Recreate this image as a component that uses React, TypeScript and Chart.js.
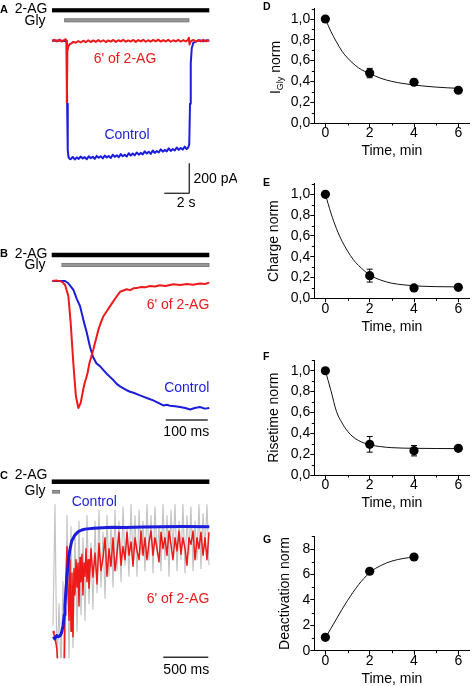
import React, { useEffect, useRef } from "react";
import { Chart, registerables } from "chart.js";

Chart.register(...registerables);

const FONT = "'Liberation Sans', Arial, Helvetica, sans-serif";
const RED = "#ee1a1a";
const BLUE = "#1c1cdc";
const NOISE = "#c4c4c4";
const BAR_GRAY = "#979797";

type Pt = [number, number];

// ---------------- Panel A : Gly currents (time s, current pA) ----------------
const A_AG6: Pt[] = [
  [0, 0], [0.2, 6], [0.4, -5], [0.6, 7], [0.8, -6], [1.0, 5], [1.1, 10], [1.16, 0], [1.19, -410], [1.23, -70],
  [1.3, -40], [1.4, -25], [1.55, -18], [1.7, -8], [1.9, -14], [2.1, -2], [2.3, -12], [2.5, 0], [2.7, -10], [2.9, 3],
  [3.1, -9], [3.3, 2], [3.5, -8], [3.7, 4], [3.9, -7], [4.1, 3], [4.3, -9], [4.5, 2], [4.7, -6], [4.9, 5],
  [5.1, -8], [5.3, 3], [5.5, -5], [5.7, 6], [5.9, -7], [6.1, 2], [6.3, -6], [6.5, 5], [6.7, -8], [6.9, 4],
  [7.1, -5], [7.3, 6], [7.5, -7], [7.7, 3], [7.9, -6], [8.1, 5], [8.3, -4], [8.5, 7], [8.7, -6], [8.9, 4],
  [9.1, -5], [9.3, 6], [9.5, -7], [9.7, 3], [9.9, -4], [10.1, 6], [10.3, -6], [10.5, 4], [10.7, -5], [10.85, 3],
  [10.95, 20], [11.0, -25], [11.1, -5], [11.3, 5], [11.5, -6], [11.7, 4], [11.9, -5], [12.1, 6], [12.3, -4], [12.58, 3],
];
const A_CONTROL: Pt[] = [
  [0, 0], [0.6, 2], [1.18, -3], [1.21, -420], [1.26, -730], [1.32, -775], [1.4, -788],
  [1.5, -790], [1.66, -775], [1.82, -792], [1.98, -778], [2.14, -788], [2.3, -772], [2.46, -785], [2.62, -776],
  [2.78, -790], [2.94, -770], [3.1, -784], [3.26, -774], [3.42, -788], [3.58, -768], [3.74, -781], [3.9, -770],
  [4.06, -785], [4.22, -765], [4.38, -779], [4.54, -768], [4.7, -782], [4.86, -760], [5.02, -775], [5.18, -764],
  [5.34, -777], [5.5, -756], [5.66, -770], [5.82, -760], [5.98, -772], [6.14, -750], [6.3, -766], [6.46, -752],
  [6.62, -764], [6.78, -745], [6.94, -760], [7.1, -748], [7.26, -758], [7.42, -738], [7.58, -752], [7.74, -740],
  [7.9, -755], [8.06, -732], [8.22, -748], [8.38, -735], [8.54, -745], [8.7, -724], [8.86, -740], [9.02, -728],
  [9.18, -738], [9.34, -718], [9.5, -735], [9.66, -722], [9.82, -732], [9.98, -712], [10.14, -728], [10.3, -715],
  [10.46, -726], [10.62, -706], [10.78, -722], [10.9, -712], [10.98, -690], [11.04, -420], [11.1, -150],
  [11.18, -50], [11.3, -15], [11.5, -6], [11.8, 3], [12.1, -4], [12.4, 3], [12.58, 0],
];
const A_AG_BAR: Pt = [0, 12.58];
const A_GLY_BAR: Pt = [0.98, 10.98];
const A_SCALE_TIME = 2; // s
const A_SCALE_AMP = 200; // pA

// ---------------- Panel B : activation (time ms, normalized current) ----------------
const B_AG6: Pt[] = [
  [0.8, 0], [10, 0.005], [23, -0.005], [31, -0.03], [39, -0.12], [44.5, -0.33], [50.8, -0.65], [57, -0.91],
  [62.7, -1.0], [68.3, -0.96], [74.6, -0.85], [78, -0.8], [81, -0.77], [85, -0.72], [88.9, -0.65], [98.4, -0.54],
  [110, -0.39], [116, -0.33], [122, -0.28], [130, -0.24], [138, -0.2], [150, -0.14], [162, -0.085], [170, -0.075],
  [178, -0.065], [186, -0.072], [194, -0.058], [202, -0.056], [210, -0.048], [222, -0.05], [233, -0.04],
  [245, -0.044], [257, -0.034], [270, -0.039], [289, -0.025], [305, -0.032], [321, -0.024], [336, -0.029],
  [352, -0.02], [364, -0.024], [374.5, -0.013],
];
const B_CONTROL: Pt[] = [
  [0.8, 0], [31, 0], [39, -0.018], [51, -0.07], [59, -0.14], [67, -0.2], [75, -0.31], [83, -0.41], [90.5, -0.52],
  [98, -0.6], [106, -0.65], [114, -0.67], [122, -0.7], [130, -0.73], [138, -0.755], [146, -0.78], [154, -0.81],
  [162, -0.83], [170, -0.845], [178, -0.86], [186, -0.872], [194, -0.88], [205, -0.895], [217, -0.91],
  [229, -0.925], [241, -0.94], [253, -0.96], [265, -0.98], [273, -0.975], [281, -0.982], [293, -0.986],
  [305, -0.992], [317, -1.0], [329, -1.012], [340, -1.0], [352, -0.992], [364, -1.005], [374.5, -1.0],
];
const B_AG_BAR: Pt = [-0.7, 374.5];
const B_GLY_BAR: Pt = [23, 374.5];
const B_SCALE_TIME = 100; // ms

// ---------------- Panel C : deactivation (time ms, normalized current) ----------------
const C_CONTROL: Pt[] = [
  [4, -1.0], [20, -1.02], [40, -0.99], [59, -1.0], [80, -0.99], [96, -0.96], [112, -0.9], [125, -0.8],
  [133, -0.72], [145, -0.56], [158, -0.43], [170, -0.32], [185, -0.22], [208, -0.13], [240, -0.08],
  [281, -0.045], [320, -0.03], [356, -0.022], [450, -0.015], [550, -0.01], [652, -0.006], [800, -0.008],
  [1000, -0.003], [1200, 0], [1450, 0.002], [1737, 0],
];
const C_AG6: Pt[] = [
  [0, -0.95], [11, -0.98], [22, -1.02], [33, -1.06], [44, -1.12], [56, -1.3], [78, -1.3], [100, -1.3],
  [122, -1.28], [133, -0.75], [144, -0.45], [156, -0.18], [167, -0.6], [178, -0.85], [189, -0.3], [200, -0.95],
  [211, -0.42], [222, -1.0], [233, -0.38], [244, -0.62], [256, -0.3], [267, -0.55], [278, -0.33], [289, -0.72],
  [300, -0.28], [311, -0.5], [322, -0.25], [333, -0.62], [344, -0.33], [356, -0.45], [367, -0.2], [378, -0.5],
  [389, -0.3], [400, -0.56], [422, -0.2], [444, -0.46], [467, -0.24], [489, -0.52], [511, -0.15], [533, -0.4],
  [556, -0.28], [578, -0.1], [600, -0.45], [622, -0.2], [644, -0.36], [667, -0.1], [689, -0.4], [711, -0.24],
  [733, -0.05], [756, -0.35], [778, -0.18], [800, -0.3], [822, -0.05], [844, -0.26], [867, -0.14], [889, -0.36],
  [911, -0.1], [933, -0.22], [956, -0.3], [978, -0.04], [1000, -0.26], [1022, -0.1], [1044, -0.3], [1067, -0.14],
  [1089, -0.04], [1111, -0.26], [1133, -0.1], [1156, -0.2], [1178, -0.32], [1200, -0.05], [1222, -0.2],
  [1244, -0.1], [1267, -0.26], [1289, -0.04], [1311, -0.16], [1333, -0.3], [1356, -0.1], [1378, -0.22],
  [1400, -0.04], [1422, -0.25], [1444, -0.1], [1467, -0.2], [1489, -0.35], [1511, -0.1], [1533, -0.16],
  [1556, -0.04], [1578, -0.3], [1600, -0.1], [1622, -0.2], [1644, -0.05], [1667, -0.26], [1689, -0.1],
  [1711, -0.3], [1733, -0.05],
];
const C_AG6_RAW: Pt[] = [
  [0, -0.9], [22, 0.2], [44, -1.3], [67, -0.7], [89, -1.3], [111, -0.5], [133, -1.3], [156, 0.1], [178, -1.2],
  [200, 0.0], [222, -1.1], [244, -0.05], [267, -0.95], [289, 0.05], [311, -0.8], [333, -0.1], [356, -0.85],
  [378, 0.1], [400, -0.7], [422, -0.15], [444, -0.75], [467, 0.05], [489, -0.6], [511, 0.15], [533, -0.55],
  [556, -0.05], [578, -0.65], [600, 0.1], [622, -0.45], [644, 0.0], [667, -0.55], [689, 0.15], [711, -0.4],
  [733, 0.05], [756, -0.5], [778, 0.18], [800, -0.35], [822, 0.0], [844, -0.45], [867, 0.2], [889, -0.3],
  [911, 0.1], [933, -0.45], [956, 0.15], [978, -0.25], [1000, 0.05], [1022, -0.4], [1044, 0.2], [1067, -0.3],
  [1089, 0.1], [1111, -0.42], [1133, 0.18], [1156, -0.25], [1178, 0.0], [1200, -0.4], [1222, 0.2], [1244, -0.3],
  [1267, 0.1], [1289, -0.45], [1311, 0.15], [1333, -0.2], [1356, 0.2], [1378, -0.4], [1400, 0.05], [1422, -0.3],
  [1444, 0.2], [1467, -0.42], [1489, 0.1], [1511, -0.25], [1533, 0.18], [1556, -0.4], [1578, 0.05], [1600, -0.3],
  [1622, 0.2], [1644, -0.38], [1667, 0.12], [1689, -0.2], [1711, 0.2], [1733, -0.35],
];
const C_AG_BAR: Pt = [-14, 1737];
const C_GLY_BAR: Pt = [-8, 78];
const C_SCALE_TIME = 500; // ms

// ---------------- Right panels (time, min) ----------------
const TIME_MIN = [0, 2, 4, 6];
const D_IGLY = [1.0, 0.48, 0.392, 0.315];
const D_SEM = [0, 0.045, 0.03, 0.015];
const D_FIT: Pt[] = [[0, 1.0], [0.25, 0.88], [0.5, 0.78], [0.75, 0.69], [1, 0.625], [1.5, 0.53], [2, 0.475], [2.5, 0.43], [3, 0.4], [3.5, 0.38], [4, 0.365], [5, 0.345], [6, 0.333]];

const E_CHARGE = [1.0, 0.218, 0.1, 0.106];
const E_SEM = [0, 0.062, 0.02, 0.02];
const E_FIT: Pt[] = [[0, 1.0], [0.25, 0.82], [0.5, 0.67], [0.75, 0.55], [1, 0.455], [1.25, 0.375], [1.5, 0.315], [2, 0.225], [2.5, 0.175], [3, 0.145], [3.5, 0.13], [4, 0.12], [5, 0.112], [6, 0.11]];

const F_RISE = [1.0, 0.294, 0.233, 0.256];
const F_SEM = [0, 0.075, 0.05, 0.02];
const F_FIT: Pt[] = [[0, 1.0], [0.25, 0.81], [0.5, 0.61], [0.75, 0.5], [1, 0.42], [1.25, 0.365], [1.5, 0.33], [2, 0.29], [2.5, 0.272], [3, 0.262], [4, 0.256], [5, 0.254], [6, 0.253]];

const G_TIME = [0, 2, 4];
const G_DEACT = [1.05, 6.25, 7.37];
const G_SEM = [0.1, 0.2, 0.2];
const G_FIT: Pt[] = [[0, 1.0], [0.25, 1.75], [0.5, 2.5], [0.75, 3.25], [1, 3.95], [1.25, 4.6], [1.5, 5.2], [1.75, 5.7], [2, 6.15], [2.5, 6.7], [3, 7.05], [3.5, 7.25], [4, 7.37]];

// ---------------- helpers ----------------
type Box = { x: number; y: number; w: number; h: number };
type TextItem = { t: string; x: number; y: number; align?: CanvasTextAlign; color?: string; size?: number; bold?: boolean };

function drawText(ctx: CanvasRenderingContext2D, it: TextItem, ox: number, oy: number) {
  ctx.save();
  ctx.font = `${it.bold ? "bold " : ""}${it.size ?? 14}px ${FONT}`;
  ctx.fillStyle = it.color ?? "#000";
  ctx.textAlign = it.align ?? "left";
  ctx.textBaseline = "middle";
  ctx.fillText(it.t, it.x - ox, it.y - oy);
  ctx.restore();
}

interface LeftSpec {
  box: Box;
  area: { l: number; r: number; t: number; b: number };
  xAnchor: { px: number; val: number; ppu: number };
  yAnchor: { py: number; val: number; ppu: number };
  traces: { data: Pt[]; color: string; width: number }[];
  bars: { range: Pt; y: number; h: number; color: string; stroke?: string }[];
  texts: TextItem[];
  hScale?: { len: number; xEnd: number; y: number };
  vScale?: { len: number; x: number; yBottom: number };
}

function leftConfig(s: LeftSpec): any {
  const { box, area } = s;
  const xMin = s.xAnchor.val - (s.xAnchor.px - area.l) / s.xAnchor.ppu;
  const xMax = s.xAnchor.val + (area.r - s.xAnchor.px) / s.xAnchor.ppu;
  const yMax = s.yAnchor.val + (s.yAnchor.py - area.t) / s.yAnchor.ppu;
  const yMin = s.yAnchor.val - (area.b - s.yAnchor.py) / s.yAnchor.ppu;
  const deco = {
    id: "leftDeco",
    afterDraw(chart: any) {
      const ctx: CanvasRenderingContext2D = chart.ctx;
      const xs = chart.scales.x;
      const ys = chart.scales.y;
      const ox = box.x, oy = box.y;
      s.bars.forEach((b) => {
        const x1 = xs.getPixelForValue(b.range[0]);
        const x2 = xs.getPixelForValue(b.range[1]);
        ctx.save();
        ctx.fillStyle = b.color;
        ctx.fillRect(x1, b.y - oy - b.h / 2, x2 - x1, b.h);
        if (b.stroke) {
          ctx.strokeStyle = b.stroke;
          ctx.lineWidth = 0.8;
          ctx.strokeRect(x1 + 0.4, b.y - oy - b.h / 2 + 0.4, x2 - x1 - 0.8, b.h - 0.8);
        }
        ctx.restore();
      });
      ctx.save();
      ctx.strokeStyle = "#333";
      ctx.lineWidth = 1.4;
      if (s.hScale) {
        const len = xs.getPixelForValue(xMin + s.hScale.len) - xs.getPixelForValue(xMin);
        ctx.beginPath();
        ctx.moveTo(s.hScale.xEnd - ox - len, s.hScale.y - oy);
        ctx.lineTo(s.hScale.xEnd - ox, s.hScale.y - oy);
        ctx.stroke();
      }
      if (s.vScale) {
        const len = ys.getPixelForValue(yMin) - ys.getPixelForValue(yMin + s.vScale.len);
        ctx.beginPath();
        ctx.moveTo(s.vScale.x - ox, s.vScale.yBottom - oy);
        ctx.lineTo(s.vScale.x - ox, s.vScale.yBottom - oy - len);
        ctx.stroke();
      }
      ctx.restore();
      s.texts.forEach((t) => drawText(ctx, t, ox, oy));
    },
  };
  return {
    type: "line",
    data: {
      datasets: s.traces.map((tr) => ({
        data: tr.data.map(([x, y]) => ({ x, y })),
        borderColor: tr.color,
        borderWidth: tr.width,
        pointRadius: 0,
        tension: 0,
        fill: false,
        borderJoinStyle: "round",
      })),
    },
    options: {
      animation: false,
      responsive: false,
      events: [],
      layout: {
        padding: { left: area.l - box.x, right: box.x + box.w - area.r, top: area.t - box.y, bottom: box.y + box.h - area.b },
      },
      plugins: { legend: { display: false }, tooltip: { enabled: false } },
      scales: {
        x: { type: "linear", display: false, min: xMin, max: xMax },
        y: { type: "linear", display: false, min: yMin, max: yMax },
      },
    },
    plugins: [deco],
  };
}

interface RightSpec {
  box: Box;
  areaTop: number;
  axisY: number;
  yMax: number;
  yStep: number;
  yMinor: number;
  decimals: number;
  times: number[];
  means: number[];
  errs: number[];
  fit: Pt[];
  title: string;
  titleCenterX: number;
  subscript?: { main: string; sub: string; rest: string; baselineX: number; centerY: number };
  letter: string;
  letterY: number;
}

const AXIS_LEFT = 314.3;
const AXIS_RIGHT = 471.5;

function rightConfig(s: RightSpec): any {
  const { box } = s;
  const yAxisW = AXIS_LEFT - box.x;
  const xAxisH = box.y + box.h - s.axisY;
  const titleBottomPad = xAxisH - 28.5 - 8.4;
  const tickFont = { family: FONT, size: 14 };
  const deco = {
    id: "rightDeco",
    beforeDatasetsDraw(chart: any) {
      const ctx: CanvasRenderingContext2D = chart.ctx;
      const xs = chart.scales.x;
      const ys = chart.scales.y;
      ctx.save();
      ctx.strokeStyle = "#000";
      ctx.lineWidth = 1;
      s.times.forEach((t, i) => {
        const e = s.errs[i];
        if (!e) return;
        const x = xs.getPixelForValue(t);
        const y1 = ys.getPixelForValue(s.means[i] + e);
        const y2 = ys.getPixelForValue(s.means[i] - e);
        ctx.beginPath();
        ctx.moveTo(x, y1);
        ctx.lineTo(x, y2);
        ctx.moveTo(x - 3, y1);
        ctx.lineTo(x + 3, y1);
        ctx.moveTo(x - 3, y2);
        ctx.lineTo(x + 3, y2);
        ctx.stroke();
      });
      ctx.restore();
    },
    afterDraw(chart: any) {
      const ctx: CanvasRenderingContext2D = chart.ctx;
      const xs = chart.scales.x;
      const ys = chart.scales.y;
      const area = chart.chartArea;
      ctx.save();
      ctx.strokeStyle = "#000";
      ctx.lineWidth = 1;
      ctx.beginPath();
      const nY = Math.round(s.yMax / s.yMinor);
      const ratio = Math.round(s.yStep / s.yMinor);
      for (let k = 1; k <= nY; k++) {
        if (k % ratio === 0) continue;
        const y = Math.round(ys.getPixelForValue(k * s.yMinor)) + 0.5;
        ctx.moveTo(area.left, y);
        ctx.lineTo(area.left - 2.5, y);
      }
      for (let k = 1; k <= 5; k += 2) {
        const x = Math.round(xs.getPixelForValue(k)) + 0.5;
        ctx.moveTo(x, area.bottom);
        ctx.lineTo(x, area.bottom + 2.5);
      }
      ctx.stroke();
      ctx.restore();
      drawText(ctx, { t: s.letter, x: 263, y: s.letterY, bold: true, size: 10.5 }, box.x, box.y);
      if (s.subscript) {
        const sp = s.subscript;
        ctx.save();
        ctx.translate(sp.baselineX - box.x, sp.centerY - box.y);
        ctx.rotate(-Math.PI / 2);
        ctx.fillStyle = "#000";
        ctx.textBaseline = "alphabetic";
        ctx.textAlign = "left";
        const big = `14px ${FONT}`;
        const small = `9px ${FONT}`;
        ctx.font = big;
        const w1 = ctx.measureText(sp.main).width;
        const w3 = ctx.measureText(sp.rest).width;
        ctx.font = small;
        const w2 = ctx.measureText(sp.sub).width;
        let x0 = -(w1 + w2 + w3) / 2;
        ctx.font = big;
        ctx.fillText(sp.main, x0, 0);
        x0 += w1;
        ctx.font = small;
        ctx.fillText(sp.sub, x0, 3);
        x0 += w2;
        ctx.font = big;
        ctx.fillText(sp.rest, x0, 0);
        ctx.restore();
      }
    },
  };
  return {
    type: "scatter",
    data: {
      datasets: [
        {
          data: s.times.map((t, i) => ({ x: t, y: s.means[i] })),
          pointRadius: 4.6,
          backgroundColor: "#000",
          borderColor: "#000",
          borderWidth: 0,
        },
        {
          data: s.fit.map(([x, y]) => ({ x, y })),
          showLine: true,
          pointRadius: 0,
          borderColor: "#111",
          borderWidth: 1,
          cubicInterpolationMode: "monotone",
        },
      ],
    },
    options: {
      animation: false,
      responsive: false,
      events: [],
      layout: { padding: { left: 0, right: box.x + box.w - AXIS_RIGHT, top: s.areaTop - box.y, bottom: 0 } },
      plugins: { legend: { display: false }, tooltip: { enabled: false } },
      scales: {
        x: {
          type: "linear",
          min: -0.5,
          max: 6.5,
          ticks: { stepSize: 2, includeBounds: false, font: tickFont, color: "#000", padding: -2, maxRotation: 0 },
          grid: { drawOnChartArea: false, tickLength: 4, tickColor: "#000", tickWidth: 1 },
          border: { color: "#000", width: 1 },
          title: { display: true, text: "Time, min", font: tickFont, color: "#000", padding: { top: 0, bottom: titleBottomPad } },
          afterFit: (sc: any) => {
            sc.height = xAxisH;
          },
        },
        y: {
          type: "linear",
          min: 0,
          max: s.yMax,
          ticks: {
            stepSize: s.yStep,
            includeBounds: false,
            font: tickFont,
            color: "#000",
            padding: 0,
            callback: (v: any) => Number(v).toFixed(s.decimals).replace(".", ","),
          },
          grid: { drawOnChartArea: false, tickLength: 4, tickColor: "#000", tickWidth: 1 },
          border: { color: "#000", width: 1 },
          title: {
            display: !s.subscript,
            text: s.title,
            font: tickFont,
            color: "#000",
            padding: { top: s.titleCenterX - box.x - 8.4, bottom: 0 },
          },
          afterFit: (sc: any) => {
            sc.width = yAxisW;
          },
        },
      },
    },
    plugins: [deco],
  };
}

// ---------------- specs ----------------
const SPEC_A: LeftSpec = {
  box: { x: 0, y: 0, w: 237, h: 225 },
  area: { l: 0, r: 237, t: 0, b: 225 },
  xAnchor: { px: 52, val: 0, ppu: 12.5 },
  yAnchor: { py: 40.7, val: 0, ppu: 0.15 },
  traces: [
    { data: A_AG6, color: RED, width: 2 },
    { data: A_CONTROL, color: BLUE, width: 2 },
  ],
  bars: [
    { range: A_AG_BAR, y: 10.3, h: 4.2, color: "#000" },
    { range: A_GLY_BAR, y: 20.3, h: 3.8, color: BAR_GRAY, stroke: "#7a7a7a" },
  ],
  texts: [
    { t: "A", x: 0, y: 9.5, bold: true, size: 11 },
    { t: "2-AG", x: 47.5, y: 9.2, align: "right" },
    { t: "Gly", x: 45.5, y: 21.3, align: "right" },
    { t: "6' of 2-AG", x: 125, y: 59.5, align: "center", color: RED },
    { t: "Control", x: 127, y: 135, align: "center", color: BLUE },
    { t: "200 pA", x: 193.5, y: 178.8 },
    { t: "2 s", x: 176.7, y: 203 },
  ],
  hScale: { len: A_SCALE_TIME, xEnd: 189.3, y: 193.3 },
  vScale: { len: A_SCALE_AMP, x: 189.3, yBottom: 193.3 },
};

const SPEC_B: LeftSpec = {
  box: { x: 0, y: 232, w: 237, h: 214 },
  area: { l: 0, r: 237, t: 232, b: 446 },
  xAnchor: { px: 52, val: 0, ppu: 0.42 },
  yAnchor: { py: 281, val: 0, ppu: 127 },
  traces: [
    { data: B_AG6, color: RED, width: 2 },
    { data: B_CONTROL, color: BLUE, width: 2 },
  ],
  bars: [
    { range: B_AG_BAR, y: 255, h: 4.5, color: "#000" },
    { range: B_GLY_BAR, y: 265, h: 4, color: BAR_GRAY, stroke: "#7a7a7a" },
  ],
  texts: [
    { t: "B", x: 0, y: 253.7, bold: true, size: 11 },
    { t: "2-AG", x: 47.5, y: 253.8, align: "right" },
    { t: "Gly", x: 45.5, y: 265, align: "right" },
    { t: "6' of 2-AG", x: 209.3, y: 305, align: "right", color: RED },
    { t: "Control", x: 209.3, y: 388.3, align: "right", color: BLUE },
    { t: "100 ms", x: 186.3, y: 432 },
  ],
  hScale: { len: B_SCALE_TIME, xEnd: 207.7, y: 420 },
};
SPEC_B.texts[5].align = "center";

const SPEC_C: LeftSpec = {
  box: { x: 0, y: 458, w: 237, h: 228 },
  area: { l: 0, r: 237, t: 458, b: 658.3 },
  xAnchor: { px: 53, val: 0, ppu: 0.09 },
  yAnchor: { py: 526.7, val: 0, ppu: 110 },
  traces: [
    { data: C_CONTROL, color: BLUE, width: 3 },
    { data: C_AG6, color: RED, width: 1.5 },
    { data: C_AG6_RAW, color: NOISE, width: 1.2 },
  ],
  bars: [
    { range: C_AG_BAR, y: 481.7, h: 4.5, color: "#000" },
    { range: C_GLY_BAR, y: 491.7, h: 3.5, color: BAR_GRAY, stroke: "#7a7a7a" },
  ],
  texts: [
    { t: "C", x: 0, y: 476, bold: true, size: 11 },
    { t: "2-AG", x: 47.5, y: 475, align: "right" },
    { t: "Gly", x: 45.5, y: 490.8, align: "right" },
    { t: "Control", x: 71.7, y: 501.7, color: BLUE },
    { t: "6' of 2-AG", x: 209.3, y: 599, align: "right", color: RED },
    { t: "500 ms", x: 186.3, y: 670, align: "center" },
  ],
  hScale: { len: C_SCALE_TIME, xEnd: 208.3, y: 657.3 },
};

const SPEC_D: RightSpec = {
  box: { x: 237, y: 0, w: 237, h: 165 },
  areaTop: 8.6,
  axisY: 123,
  yMax: 1.1,
  yStep: 0.2,
  yMinor: 0.1,
  decimals: 1,
  times: TIME_MIN,
  means: D_IGLY,
  errs: D_SEM,
  fit: D_FIT,
  title: "IGly norm",
  titleCenterX: 275,
  subscript: { main: "I", sub: "Gly", rest: " norm", baselineX: 280, centerY: 67.5 },
  letter: "D",
  letterY: 6.7,
};

const SPEC_E: RightSpec = {
  box: { x: 237, y: 172, w: 237, h: 168 },
  areaTop: 183.9,
  axisY: 298.3,
  yMax: 1.1,
  yStep: 0.2,
  yMinor: 0.1,
  decimals: 1,
  times: TIME_MIN,
  means: E_CHARGE,
  errs: E_SEM,
  fit: E_FIT,
  title: "Charge norm",
  titleCenterX: 274,
  letter: "E",
  letterY: 183.5,
};

const SPEC_F: RightSpec = {
  box: { x: 237, y: 348, w: 237, h: 169 },
  areaTop: 360.3,
  axisY: 475,
  yMax: 1.1,
  yStep: 0.2,
  yMinor: 0.1,
  decimals: 1,
  times: TIME_MIN,
  means: F_RISE,
  errs: F_SEM,
  fit: F_FIT,
  title: "Risetime norm",
  titleCenterX: 274.5,
  letter: "F",
  letterY: 357.3,
};

const SPEC_G: RightSpec = {
  box: { x: 237, y: 524, w: 237, h: 169 },
  areaTop: 536.3,
  axisY: 650.7,
  yMax: 9,
  yStep: 2,
  yMinor: 1,
  decimals: 0,
  times: G_TIME,
  means: G_DEACT,
  errs: G_SEM,
  fit: G_FIT,
  title: "Deactivation norm",
  titleCenterX: 285.4,
  letter: "G",
  letterY: 540,
};

function ChartBox({ box, build }: { box: Box; build: () => any }) {
  const ref = useRef<HTMLCanvasElement>(null);
  useEffect(() => {
    const chart = new Chart(ref.current as HTMLCanvasElement, build());
    return () => chart.destroy();
  }, []);
  return (
    <canvas
      ref={ref}
      width={box.w}
      height={box.h}
      style={{ position: "absolute", left: box.x, top: box.y, width: box.w, height: box.h }}
    />
  );
}

export default function App() {
  return (
    <div
      style={{
        position: "fixed",
        left: 0,
        top: 0,
        width: 474,
        height: 686,
        overflow: "hidden",
        background: "#fff",
      }}
    >
      <ChartBox box={SPEC_A.box} build={() => leftConfig(SPEC_A)} />
      <ChartBox box={SPEC_B.box} build={() => leftConfig(SPEC_B)} />
      <ChartBox box={SPEC_C.box} build={() => leftConfig(SPEC_C)} />
      <ChartBox box={SPEC_D.box} build={() => rightConfig(SPEC_D)} />
      <ChartBox box={SPEC_E.box} build={() => rightConfig(SPEC_E)} />
      <ChartBox box={SPEC_F.box} build={() => rightConfig(SPEC_F)} />
      <ChartBox box={SPEC_G.box} build={() => rightConfig(SPEC_G)} />
    </div>
  );
}
